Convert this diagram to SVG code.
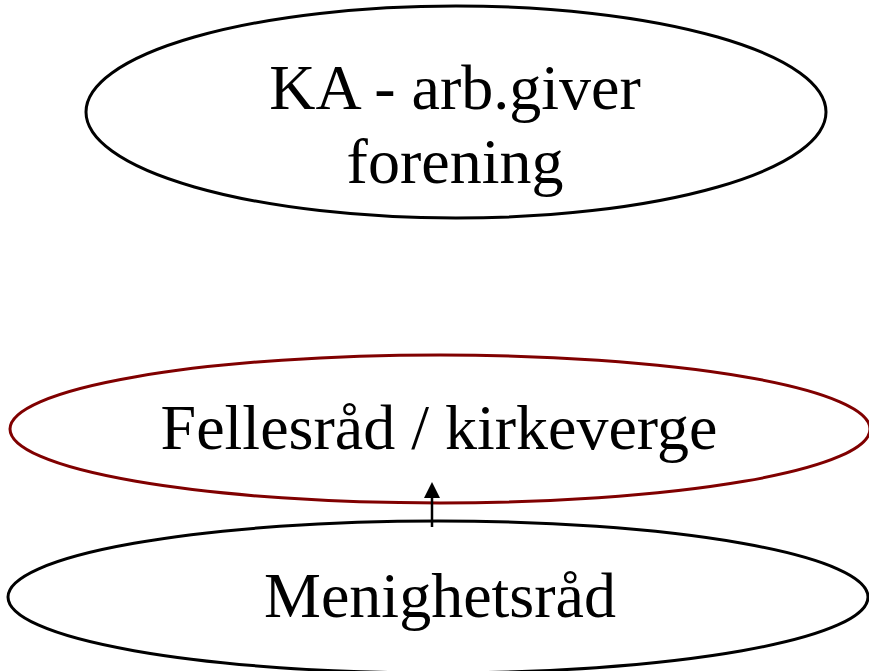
<svg xmlns="http://www.w3.org/2000/svg" width="869" height="671" viewBox="0 0 869 671">
<defs>
<style>
.node{fill:#fff;stroke-width:3}
.lbl{font-family:"Liberation Serif","Times New Roman",serif;font-size:64px;fill:#000;text-anchor:middle}
.conn{stroke:#000;stroke-width:2.5;fill:none}
</style>
<marker id="arr" markerWidth="16" markerHeight="16" refX="8" refY="8" viewBox="0 0 16 16" markerUnits="userSpaceOnUse" orient="auto">
<path d="M0,0 L16,8 L0,16 Z" fill="#000"/>
</marker>
</defs>
<rect width="869" height="671" fill="#fff"/>
<g id="ka">
<ellipse class="node" cx="456" cy="112" rx="370" ry="106" stroke="#000"/>
<text class="lbl" x="455" y="109">KA - arb.giver</text>
<text class="lbl" x="455" y="183">forening</text>
</g>
<g id="fellesrad">
<ellipse class="node" cx="440" cy="429" rx="430" ry="74" stroke="#800000"/>
<text class="lbl" x="439" y="449">Fellesråd / kirkeverge</text>
</g>
<g id="menighetsrad">
<ellipse class="node" cx="438" cy="597" rx="430" ry="76" stroke="#000"/>
<text class="lbl" x="440" y="617">Menighetsråd</text>
</g>
<g id="connectors">
<line class="conn" x1="432" y1="527" x2="432" y2="490" marker-end="url(#arr)"/>
</g>
</svg>
